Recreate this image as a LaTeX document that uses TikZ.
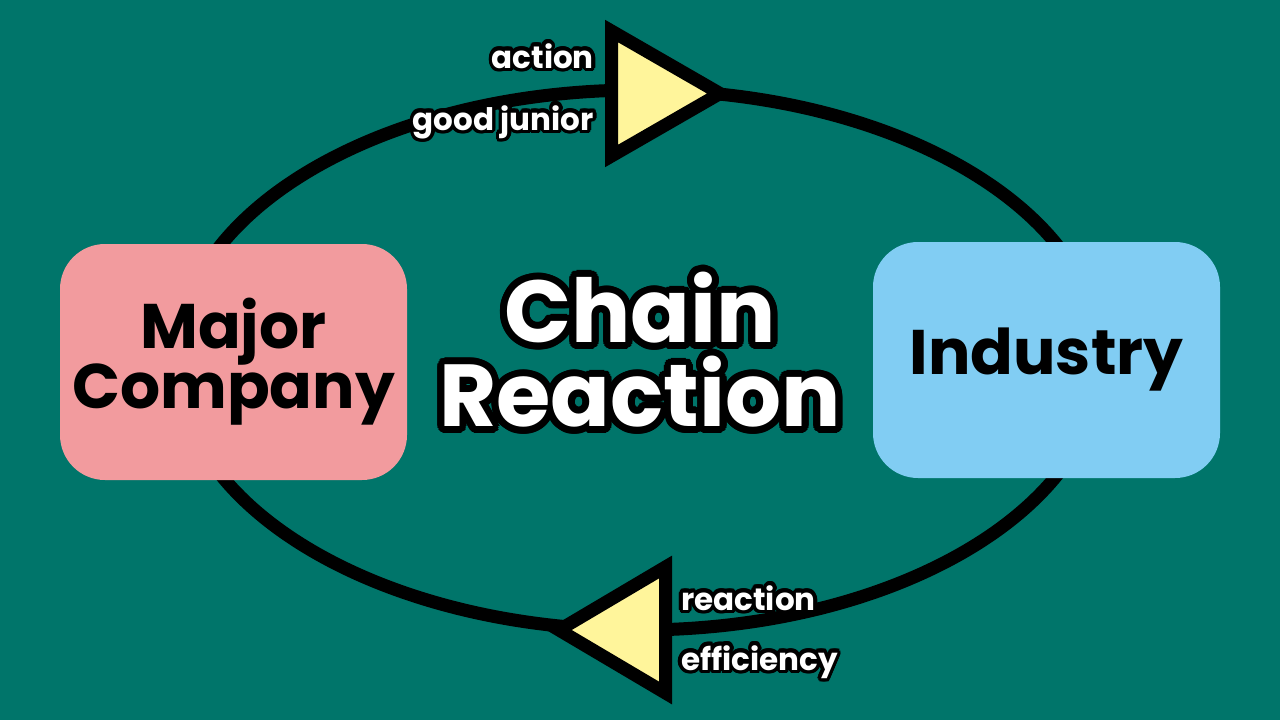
\documentclass[tikz,border=0pt]{standalone}
\usepackage{fontspec}
\setmainfont{Poppins}
\usetikzlibrary{calc}
\definecolor{bgteal}{HTML}{00756A}
\definecolor{pinkbox}{HTML}{F29B9E}
\definecolor{bluebox}{HTML}{81CDF3}
\definecolor{tri}{HTML}{FFF59B}
\newcommand\outlinetext[7]{% name, coord, anchor, font, radius, align, text
  \foreach \a in {0,15,...,345}{%
    \node[anchor=#3,font=#4,text=black,inner sep=0pt,align=#6] at ($(#2)+(\a:#5)$) {#7};
    \node[anchor=#3,font=#4,text=black,inner sep=0pt,align=#6] at ($(#2)+(\a:#5*0.5)$) {#7};}
  \node[anchor=#3,font=#4,text=white,inner sep=0pt,align=#6] (#1) at (#2) {#7};
}
\tikzset{
  box/.style={rounded corners=45pt, minimum width=347pt, minimum height=236pt,
    inner sep=0pt, align=center, text=black, font=\bfseries\fontsize{63}{66}\selectfont},
  cycleline/.style={line width=13pt, draw=black},
  tribox/.style={line width=13pt, draw=black, fill=tri, line join=miter},
}
\begin{document}
\begin{tikzpicture}[x=1pt,y=-1pt]
\useasboundingbox (0,0) rectangle (1280,720);
\fill[bgteal] (0,0) rectangle (1280,720);
% cycle
\coordinate (ctr) at (639,360);
\draw[cycleline] (ctr) ellipse [x radius=462, y radius=270];
% boxes
\node[box, fill=pinkbox] (major) at (233.5,362) {Major\\[-6pt]Company};
\node[box, fill=bluebox] (industry) at (1046.5,360) {Industry};
% arrowheads
\coordinate (t1) at (611.5,31);
\coordinate (t2) at (611.5,156);
\coordinate (t3) at (720,93.5);
\draw[tribox] (t1) -- (t3) -- (t2) -- cycle;
\coordinate (b1) at (665.5,567);
\coordinate (b2) at (665.5,693);
\coordinate (b3) at (559,630);
\draw[tribox] (b1) -- (b3) -- (b2) -- cycle;
% labels
\coordinate (pa) at (594,68);
\coordinate (pg) at (594,130);
\coordinate (pr) at (681,610);
\coordinate (pe) at (681,670);
\coordinate (pc) at (640,350);
\outlinetext{lact}{pa}{base east}{\bfseries\fontsize{31}{31}\selectfont}{3.5}{right}{action}
\outlinetext{lgood}{pg}{base east}{\bfseries\fontsize{31}{31}\selectfont}{3.5}{right}{good junior}
\outlinetext{lreact}{pr}{base west}{\bfseries\fontsize{31}{31}\selectfont}{3.5}{left}{reaction}
\outlinetext{leff}{pe}{base west}{\bfseries\fontsize{31}{31}\selectfont}{3.5}{left}{efficiency}
\outlinetext{title}{pc}{center}{\bfseries\fontsize{88}{84}\selectfont}{7}{center}{Chain\\Reaction}
\end{tikzpicture}
\end{document}
